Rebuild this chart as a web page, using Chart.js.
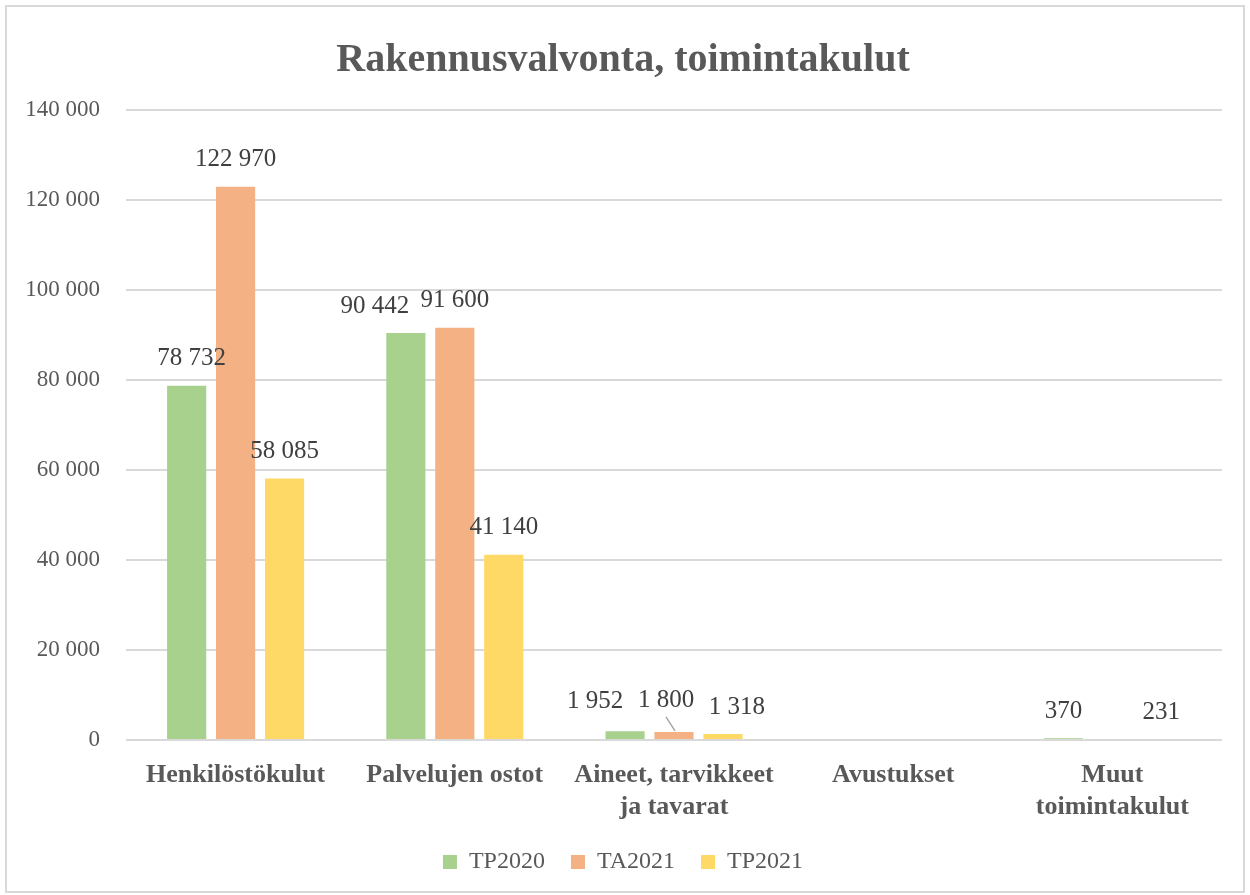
<!DOCTYPE html>
<html>
<head>
<meta charset="utf-8">
<script src="https://cdn.jsdelivr.net/npm/chart.js@4.4.1/dist/chart.umd.min.js"></script>
<style>
  html, body { margin: 0; padding: 0; background: #fff; }
  #wrap { position: absolute; left: 0; top: 0; width: 1250px; height: 895px; }
  #frame { position: absolute; left: 5px; top: 5px; width: 1236px; height: 884px; border: 2px solid #d9d9d9; pointer-events: none; }
</style>
</head>
<body>
<div id="wrap">
  <canvas id="costChart" width="1250" height="895"></canvas>
  <div id="frame"></div>
</div>
<script>
const categories = [
    'Henkilöstökulut',
    'Palvelujen ostot',
    ['Aineet, tarvikkeet', 'ja tavarat'],
    'Avustukset',
    ['Muut', 'toimintakulut']
];
const tp2020 = [78732, 90442, 1952, null, 370];
const ta2021 = [122970, 91600, 1800, null, null];
const tp2021 = [58085, 41140, 1318, null, 231];
const yTicks = [0, 20000, 40000, 60000, 80000, 100000, 120000, 140000];

const FONT = "'Liberation Serif', 'Times New Roman', serif";

const fmt = v => String(Math.round(v)).replace(/\B(?=(\d{3})+(?!\d))/g, ' ');

// small nudges so the crowded value labels don't collide
const labelShift = {
    '0-0': { dx: 5 },
    '0-1': { dx: -31 },
    '0-2': { dx: -30, dy: -3 },
    '1-2': { dx: -8, dy: -4, leader: true },
    '2-2': { dx: 14 }
};

const valueLabels = {
    id: 'valueLabels',
    afterDatasetsDraw(chart) {
        const ctx = chart.ctx;
        ctx.save();
        ctx.font = `25px ${FONT}`;
        ctx.fillStyle = '#404040';
        ctx.textAlign = 'center';
        ctx.textBaseline = 'middle';
        chart.data.datasets.forEach((ds, di) => {
            const meta = chart.getDatasetMeta(di);
            meta.data.forEach((bar, i) => {
                const v = ds.data[i];
                if (v === null || v === undefined) return;
                const s = labelShift[di + '-' + i] || {};
                const x = bar.x + (s.dx || 0);
                const y = bar.y - 27 + (s.dy || 0);
                if (s.leader) {
                    ctx.strokeStyle = '#a6a6a6';
                    ctx.lineWidth = 1.5;
                    ctx.beginPath();
                    ctx.moveTo(x, y + 16);
                    ctx.lineTo(bar.x + 1, bar.y - 1);
                    ctx.stroke();
                }
                ctx.fillText(fmt(v), x, y);
            });
        });
        ctx.restore();
    }
};

new Chart(document.getElementById('costChart'), {
    type: 'bar',
    data: {
        labels: categories,
        datasets: [
            { label: 'TP2020', data: tp2020, backgroundColor: '#a9d18e' },
            { label: 'TA2021', data: ta2021, backgroundColor: '#f4b183' },
            { label: 'TP2021', data: tp2021, backgroundColor: '#ffd966' }
        ]
    },
    options: {
        responsive: false,
        animation: false,
        categoryPercentage: 0.67,
        barPercentage: 0.8,
        layout: {
            padding: { left: 24, right: 28, top: 20, bottom: 11 }
        },
        plugins: {
            title: {
                display: true,
                text: 'Rakennusvalvonta, toimintakulut',
                color: '#595959',
                font: { family: FONT, size: 40, weight: 'bold' },
                padding: { top: 17, bottom: 25 }
            },
            legend: {
                position: 'bottom',
                labels: {
                    color: '#595959',
                    font: { family: FONT, size: 24 },
                    boxWidth: 14,
                    boxHeight: 14,
                    padding: 26
                }
            },
            tooltip: { enabled: false }
        },
        scales: {
            x: {
                grid: { display: false },
                border: { display: false },
                afterFit: axis => { axis.height = 84; },
                ticks: {
                    color: '#595959',
                    font: { family: FONT, size: 26, weight: 'bold' },
                    padding: 12,
                    maxRotation: 0
                }
            },
            y: {
                min: 0,
                max: 140000,
                afterBuildTicks: axis => { axis.ticks = yTicks.map(v => ({ value: v })); },
                afterFit: axis => { axis.width = 102; },
                grid: { color: '#d9d9d9', lineWidth: 2, drawTicks: false },
                border: { display: false },
                ticks: {
                    color: '#595959',
                    font: { family: FONT, size: 23 },
                    padding: 26,
                    callback: v => fmt(v)
                }
            }
        }
    },
    plugins: [valueLabels]
});
</script>
</body>
</html>
